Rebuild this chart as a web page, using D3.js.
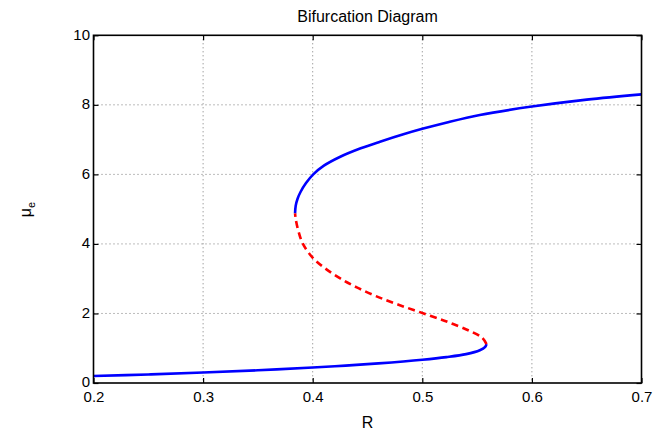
<!DOCTYPE html>
<html>
<head>
<meta charset="utf-8">
<script src="https://cdn.jsdelivr.net/npm/d3@7"></script>
<style>
  html, body { margin: 0; padding: 0; background: #fff; }
  svg { display: block; font-family: "Liberation Sans", Arial, Helvetica, sans-serif; }
</style>
</head>
<body>
<svg id="chart" width="654" height="429"></svg>
<script>
// ---- data ----
const xTicks = [0.2, 0.3, 0.4, 0.5, 0.6, 0.7];
const yTicks = [0, 2, 4, 6, 8, 10];

// lower stable branch (solid blue)
const lowerR  = [0.200, 0.250, 0.300, 0.350, 0.400, 0.430, 0.460, 0.500, 0.522, 0.540, 0.5525, 0.5572, 0.5586];
const lowerMu = [0.20, 0.245, 0.30, 0.365, 0.445, 0.50, 0.565, 0.67, 0.745, 0.83, 0.94, 1.03, 1.12];

// unstable middle branch (dashed red)
const midR  = [0.5586, 0.5546, 0.5431, 0.5237, 0.5013, 0.4783, 0.4577, 0.4402, 0.4255, 0.4112, 0.4001, 0.3911, 0.3867, 0.3846, 0.3839];
const midMu = [1.12, 1.30, 1.50, 1.75, 2.00, 2.25, 2.50, 2.75, 3.00, 3.30, 3.60, 4.00, 4.40, 4.70, 4.88];

// upper stable branch (solid blue)
const upperR  = [0.3839, 0.3845, 0.3862, 0.3890, 0.3939, 0.4005, 0.4102, 0.4247, 0.4438, 0.4614, 0.4835, 0.5000, 0.5225, 0.5525, 0.6000, 0.6500, 0.7000];
const upperMu = [4.88, 5.10, 5.30, 5.50, 5.75, 6.00, 6.25, 6.50, 6.75, 6.94, 7.16, 7.31, 7.495, 7.71, 7.95, 8.15, 8.30];

// ---- layout ----
const svg = d3.select("#chart");
const L = 93.5, R = 641.5, T = 35.3, B = 383;
const x = d3.scaleLinear().domain([0.2, 0.7]).range([L, R]);
const y = d3.scaleLinear().domain([0, 10]).range([B, T]);

// grid
const grid = svg.append("g");
grid.selectAll("line.gx").data(xTicks.slice(1, -1)).enter().append("line")
  .attr("x1", d => x(d)).attr("x2", d => x(d)).attr("y1", T).attr("y2", B)
  .attr("stroke", "#7a7a7a").attr("stroke-width", 1).attr("stroke-dasharray", "1,3");
grid.selectAll("line.gy").data(yTicks.slice(1, -1)).enter().append("line")
  .attr("y1", d => y(d)).attr("y2", d => y(d)).attr("x1", L).attr("x2", R)
  .attr("stroke", "#7a7a7a").attr("stroke-width", 1).attr("stroke-dasharray", "1,3");

// curves
const pts = (rs, ms) => rs.map((r, i) => [r, ms[i]]);
const line = d3.line().x(d => x(d[0])).y(d => y(d[1])).curve(d3.curveCatmullRom.alpha(0.5));

svg.append("path").datum(pts(lowerR, lowerMu)).attr("d", line)
  .attr("fill", "none").attr("stroke", "#0000ff").attr("stroke-width", 2.6);
svg.append("path").datum(pts(upperR, upperMu)).attr("d", line)
  .attr("fill", "none").attr("stroke", "#0000ff").attr("stroke-width", 2.6);
svg.append("path").datum(pts(midR, midMu)).attr("d", line)
  .attr("fill", "none").attr("stroke", "#ff0000").attr("stroke-width", 2.6)
  .attr("stroke-dasharray", "7,4.5");

// axes with inward ticks on all sides (MATLAB box style)
const tl = 5;
const axB = svg.append("g").attr("transform", `translate(0,${B})`)
  .call(d3.axisBottom(x).tickValues(xTicks).tickSize(-tl).tickPadding(0).tickFormat(d3.format(".1f")));
const axT = svg.append("g").attr("transform", `translate(0,${T})`)
  .call(d3.axisTop(x).tickValues(xTicks).tickSize(-tl).tickFormat(""));
const axL = svg.append("g").attr("transform", `translate(${L},0)`)
  .call(d3.axisLeft(y).tickValues(yTicks).tickSize(-tl).tickFormat(d3.format("d")));
const axR = svg.append("g").attr("transform", `translate(${R},0)`)
  .call(d3.axisRight(y).tickValues(yTicks).tickSize(-tl).tickFormat(""));

[axB, axT, axL, axR].forEach(a => {
  a.select(".domain").remove();
  a.selectAll(".tick line").attr("stroke", "#000").attr("stroke-width", 1.2);
});
axB.selectAll(".tick text").attr("y", 0).attr("dy", null).attr("transform", "translate(0,18.7)")
  .attr("font-size", 15).attr("fill", "#000").attr("font-family", "Liberation Sans, Arial, sans-serif");
axL.selectAll(".tick text").attr("x", -3.5).attr("dy", null).attr("y", 3.7)
  .attr("font-size", 15).attr("fill", "#000").attr("font-family", "Liberation Sans, Arial, sans-serif");

// box
svg.append("rect").attr("x", L).attr("y", T).attr("width", R - L).attr("height", B - T)
  .attr("fill", "none").attr("stroke", "#000").attr("stroke-width", 1.6);

// title and labels
svg.append("text").attr("x", 367.5).attr("y", 21.7).attr("text-anchor", "middle")
  .attr("font-size", 16).attr("fill", "#000").text("Bifurcation Diagram");
svg.append("text").attr("x", 367.5).attr("y", 427.5).attr("text-anchor", "middle")
  .attr("font-size", 16).attr("fill", "#000").text("R");
const yl = svg.append("text").attr("transform", "translate(30.5,209.5) rotate(-90)")
  .attr("text-anchor", "middle").attr("font-size", 16).attr("fill", "#000");
yl.append("tspan").text("μ");
yl.append("tspan").attr("font-size", 11).attr("dy", 4).text("e");
</script>
</body>
</html>
